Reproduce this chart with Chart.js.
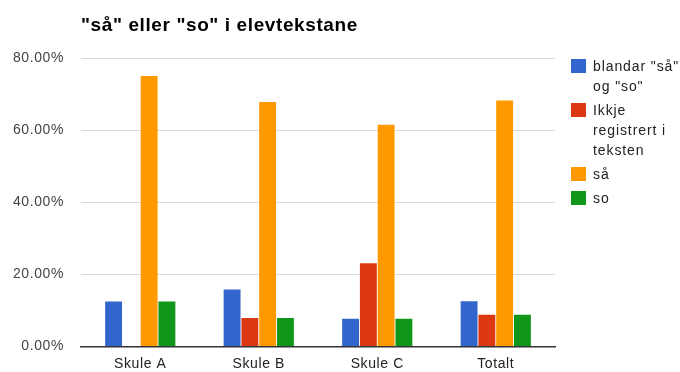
<!DOCTYPE html>
<html>
<head>
<meta charset="utf-8">
<script src="https://cdn.jsdelivr.net/npm/chart.js@4"></script>
<style>
  html, body { margin: 0; padding: 0; background: #fff; }
  #wrap { width: 680px; height: 372px; }
</style>
</head>
<body>
<div id="wrap"><canvas id="chart" width="680" height="372"></canvas></div>
<script>
// Data
const categories = ['Skule A', 'Skule B', 'Skule C', 'Totalt'];
const seriesNames = [['blandar "så"', 'og "so"'], ['Ikkje', 'registrert i', 'teksten'], ['så'], ['so']];
const blandar = [12.5, 15.8, 7.7, 12.6];
const ikkje = [0, 7.9, 23.1, 8.8];
const saa = [75.0, 67.8, 61.5, 68.2];
const so = [12.5, 7.9, 7.7, 8.8];
const yTicks = [0, 20, 40, 60, 80];
const colors = ['#3366cc', '#dc3912', '#ff9900', '#109618'];
const titleText = '"så" eller "so" i elevtekstane';

const FONT = 'Arial, "Liberation Sans", sans-serif';

// wider text spacing like the reference rendering
const canvasEl = document.getElementById('chart');
canvasEl.style.letterSpacing = '0.6px';

// Title and wrapped legend drawn by hand so they sit where the reference has them
const chromePlugin = {
    id: 'chrome',
    afterDraw(chart) {
        const ctx = chart.ctx;
        const area = chart.chartArea;
        ctx.save();
        ctx.fillStyle = '#000';
        ctx.font = 'bold 19px ' + FONT;
        ctx.letterSpacing = '0.6px';
        ctx.textBaseline = 'alphabetic';
        ctx.textAlign = 'left';
        ctx.fillText(titleText, area.left, 31);

        ctx.font = '14px ' + FONT;
        ctx.letterSpacing = '0.9px';
        let y = 71;
        chart.data.datasets.forEach((ds, i) => {
            ctx.fillStyle = ds.backgroundColor;
            ctx.fillRect(571, y - 12, 15, 14);
            ctx.fillStyle = '#222';
            seriesNames[i].forEach((line, j) => {
                ctx.fillText(line, 593, y);
                if (j < seriesNames[i].length - 1) y += 20;
            });
            y += 24;
        });
        ctx.restore();
    }
};

const ctx = canvasEl.getContext('2d');
ctx.letterSpacing = '0.6px';
new Chart(ctx, {
    type: 'bar',
    data: {
        labels: categories,
        datasets: [
            { label: seriesNames[0].join(' '), data: blandar, backgroundColor: colors[0] },
            { label: seriesNames[1].join(' '), data: ikkje, backgroundColor: colors[1] },
            { label: seriesNames[2].join(' '), data: saa, backgroundColor: colors[2] },
            { label: seriesNames[3].join(' '), data: so, backgroundColor: colors[3] }
        ]
    },
    options: {
        responsive: false,
        animation: false,
        categoryPercentage: 0.6,
        barPercentage: 0.95,
        layout: { padding: { top: 58, right: 125, left: 0, bottom: 0 } },
        plugins: {
            legend: { display: false },
            title: { display: false },
            tooltip: { enabled: false }
        },
        scales: {
            x: {
                afterFit: (s) => { s.height = 23; },
                grid: { display: false, drawTicks: false },
                border: { color: '#333', width: 1.5 },
                ticks: { color: '#222', font: { family: FONT, size: 14 }, padding: 9 }
            },
            y: {
                min: 0,
                max: 80,
                afterFit: (s) => { s.width = 81; },
                afterBuildTicks: (s) => { s.ticks = yTicks.map(v => ({ value: v })); },
                grid: { color: '#d9d9d9', drawTicks: false },
                border: { display: false },
                ticks: {
                    color: '#444',
                    font: { family: FONT, size: 14 },
                    padding: 17,
                    callback: (v) => v.toFixed(2) + '%'
                }
            }
        }
    },
    plugins: [chromePlugin]
});
</script>
</body>
</html>
